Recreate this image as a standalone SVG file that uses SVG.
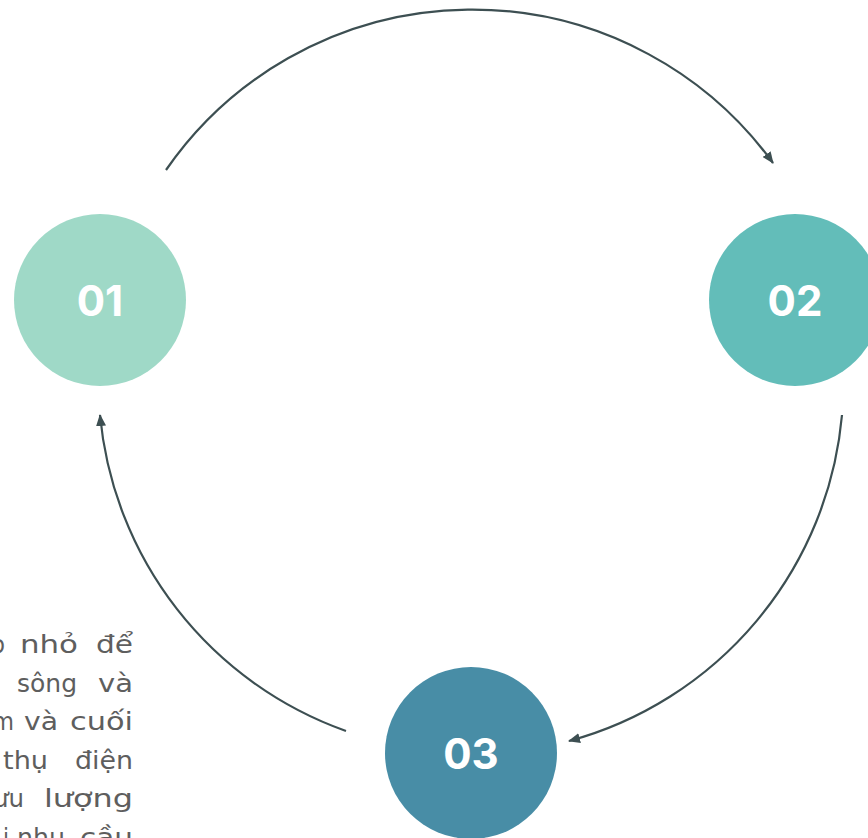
<svg xmlns="http://www.w3.org/2000/svg" width="868" height="838" viewBox="0 0 868 838">
<style>
.num{font-family:Inter,"Open Sans","Liberation Sans",sans-serif;font-weight:700;font-size:42px;fill:#ffffff;text-anchor:middle;}
.conn{fill:none;stroke:#3d4f52;stroke-width:2.2;}
.body{font-family:"DejaVu Sans","Liberation Sans",sans-serif;font-size:24px;fill:#5e5e5e;}
</style>
<defs>
<marker id="arr" viewBox="0 0 12 10" refX="11" refY="5" markerWidth="12" markerHeight="10" markerUnits="userSpaceOnUse" orient="auto">
<path d="M0,0 L12,5 L0,10 Z" fill="#3d4f52"/>
</marker>
</defs>
<rect width="868" height="838" fill="#ffffff"/>
<g id="connectors">
<path class="conn" d="M166,170 A372,372 0 0 1 773,163" marker-end="url(#arr)"/>
<path class="conn" d="M842,415 A372,372 0 0 1 569,741" marker-end="url(#arr)"/>
<path class="conn" d="M346,731 A372,372 0 0 1 100,415" marker-end="url(#arr)"/>
</g>
<g id="node-01">
<circle cx="100" cy="300" r="86" fill="#9fd9c7"/>
<text class="num" x="100" y="316">01</text>
</g>
<g id="node-02">
<circle cx="795" cy="300" r="86" fill="#63bdb9"/>
<text class="num" x="795" y="316">02</text>
</g>
<g id="node-03">
<circle cx="471" cy="753" r="86" fill="#488da6"/>
<text class="num" x="471" y="769">03</text>
</g>
<g id="caption">
<text class="body" x="-9" y="653" textLength="14" lengthAdjust="spacingAndGlyphs">o</text>
<text class="body" x="20" y="653" textLength="58" lengthAdjust="spacingAndGlyphs">nhỏ</text>
<text class="body" x="96" y="653" textLength="37" lengthAdjust="spacingAndGlyphs">để</text>
<text class="body" x="17" y="691.5" textLength="60" lengthAdjust="spacingAndGlyphs">sông</text>
<text class="body" x="98" y="691.5" textLength="35" lengthAdjust="spacingAndGlyphs">và</text>
<text class="body" x="-8" y="730" textLength="22" lengthAdjust="spacingAndGlyphs">m</text>
<text class="body" x="24" y="730" textLength="34" lengthAdjust="spacingAndGlyphs">và</text>
<text class="body" x="70" y="730" textLength="63" lengthAdjust="spacingAndGlyphs">cuối</text>
<text class="body" x="3" y="768.5" textLength="45" lengthAdjust="spacingAndGlyphs">thụ</text>
<text class="body" x="75" y="768.5" textLength="58" lengthAdjust="spacingAndGlyphs">điện</text>
<text class="body" x="-7" y="807" textLength="31" lengthAdjust="spacingAndGlyphs">ưu</text>
<text class="body" x="44" y="807" textLength="89" lengthAdjust="spacingAndGlyphs">lượng</text>
<text class="body" x="3" y="845.5" textLength="6" lengthAdjust="spacingAndGlyphs">i</text>
<text class="body" x="17" y="845.5" textLength="48" lengthAdjust="spacingAndGlyphs">nhu</text>
<text class="body" x="80" y="845.5" textLength="53" lengthAdjust="spacingAndGlyphs">cầu</text>
</g>
</svg>
